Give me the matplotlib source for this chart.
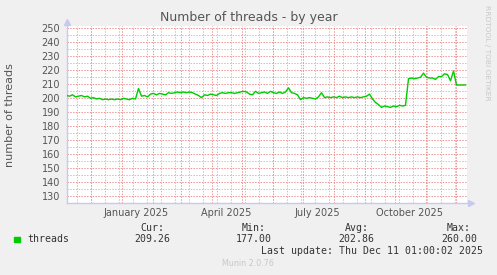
import datetime as dt
import numpy as np
import matplotlib
matplotlib.use('Agg')
import matplotlib.pyplot as plt
import matplotlib.dates as mdates
from matplotlib.patches import Rectangle

# threads, one reading every 3 days from 7 Nov 2024
start = dt.datetime(2024, 11, 7)
step_days = 3
threads = [202, 201.5, 202.5, 201, 201.5, 202, 201, 201.5, 200, 200.5,
           199.5, 200, 199, 199.5, 199, 199.5, 199, 199.5, 199, 200,
           199.5, 199, 200, 199.5, 207, 201.5, 202, 201, 203, 203.5,
           202.5, 203.5, 203, 202.5, 204, 203.5, 204, 204.5, 204, 204.5,
           204, 204.5, 204, 203, 202, 200.5, 202.5, 202, 203, 202.5,
           202, 203.5, 204, 203.5, 204, 204, 203.5, 204, 204.5, 205,
           204.5, 203, 202.5, 205, 203.5, 204, 204.5, 203.5, 205, 204,
           203.5, 204.5, 203.5, 204.5, 207.5, 204, 203.5, 202.5, 199, 200.5,
           200, 200.5, 200, 199.5, 201, 204, 200.5, 201, 200.5, 201,
           200.5, 201.5, 200.5, 201, 200.5, 201, 200.5, 201, 200.5, 201,
           201.5, 203, 199.5, 197, 195.5, 193.5, 194.5, 194, 193.5, 194.5,
           194, 195, 194.5, 195, 214, 214.5, 214, 214.5, 215, 218,
           215, 214.5, 214.5, 213.5, 215.5, 215.5, 217.5, 217, 212.5, 219.5,
           209.5, 209.5, 209.5, 209.5]
dates = [start + dt.timedelta(days=step_days * i) for i in range(len(threads))]

y_ticks = list(range(130, 251, 10))
x_labels = ['January 2025', 'April 2025', 'July 2025', 'October 2025']
x_label_dates = [dt.datetime(2025, 1, 16), dt.datetime(2025, 4, 16),
                 dt.datetime(2025, 7, 16), dt.datetime(2025, 10, 16)]

stats_head = ['Cur:', 'Min:', 'Avg:', 'Max:']
stats_vals = ['209.26', '177.00', '202.86', '260.00']

W, H = 497, 275
bg = '#F0F0F0'
txt = '#555555'
fig = plt.figure(figsize=(W / 100, H / 100), dpi=100, facecolor=bg)
ax = fig.add_axes([66.5 / W, (H - 203.3) / H, 400 / W, 177.8 / H])
ax.set_facecolor('white')

x0 = dt.datetime(2024, 11, 7)
x1 = dt.datetime(2025, 12, 12)
ax.set_xlim(x0, x1)
ax.set_ylim(125, 252)

dots = (0, (1.4, 1.4))
grid_kw = dict(lw=0.72, ls=dots)
# minor grid
for v in range(125, 251, 5):
    if v % 10:
        ax.axhline(v, color='#C4C4C4', zorder=1, **grid_kw)
d = dt.datetime(2024, 11, 17)
while d < x1:
    ax.axvline(d, color='#C4C4C4', zorder=1, **grid_kw)
    d += dt.timedelta(days=14)
# major grid
for v in y_ticks:
    ax.axhline(v, color='#EC9494', zorder=2, **grid_kw)
for m in range(12, 25):
    md = dt.datetime(2024 + (m - 1) // 12, (m - 1) % 12 + 1, 1)
    ax.axvline(md, color='#EC9494', zorder=2, **grid_kw)

ax.plot(dates, threads, color='#00CC00', lw=1.0, zorder=3)

for s in ['top', 'right']:
    ax.spines[s].set_visible(False)
for s in ['left', 'bottom']:
    ax.spines[s].set_color('#C8C8F0')
    ax.spines[s].set_linewidth(1.0)
ax.plot([0], [1.02], marker='^', ms=4, color='#C8C8F0', transform=ax.transAxes, clip_on=False)
ax.plot([1.012], [0], marker='>', ms=4, color='#C8C8F0', transform=ax.transAxes, clip_on=False)

ax.set_yticks(y_ticks)
ax.set_yticklabels([str(v) for v in y_ticks])
ax.set_xticks([mdates.date2num(x) for x in x_label_dates])
ax.set_xticklabels(x_labels)
ax.tick_params(axis='y', length=0, pad=4.6, labelsize=7, labelcolor=txt)
ax.tick_params(axis='x', length=0, pad=3.5, labelsize=7, labelcolor=txt)

def px(x, y):
    return x / W, 1 - y / H

fig.text(*px(248.5, 18), 'Number of threads - by year', ha='center', va='center',
         fontsize=9, color=txt)
fig.text(*px(10, 115), 'number of threads', ha='center', va='center',
         rotation=90, fontsize=8, color=txt)
fig.text(*px(487, 53), 'RRDTOOL / TOBI OETIKER', ha='center', va='center',
         rotation=270, fontsize=5.4, color='#C8C8C8')

mono = 'DejaVu Sans Mono'
fig.patches.append(Rectangle(px(14, 242), 6 / W, 5.5 / H, color='#00CC00',
                             transform=fig.transFigure))
fig.text(*px(27, 239.5), 'threads', ha='left', va='center', fontsize=7.1,
         family=mono, color='#333333')
for cx, hd, vl in zip([152, 254, 356.5, 459], stats_head, stats_vals):
    fig.text(*px(cx, 227.7), hd, ha='center', va='center', fontsize=7.1,
             family=mono, color='#333333')
    fig.text(*px(cx, 239.5), vl, ha='center', va='center', fontsize=7.1,
             family=mono, color='#333333')
fig.text(*px(372, 251), 'Last update: Thu Dec 11 01:00:02 2025', ha='center',
         va='center', fontsize=7.1, family=mono, color='#333333')
fig.text(*px(248, 264), 'Munin 2.0.76', ha='center', va='center', fontsize=5.8,
         color='#C8C8C8')

fig.savefig('out.png', dpi=100, facecolor=bg)
